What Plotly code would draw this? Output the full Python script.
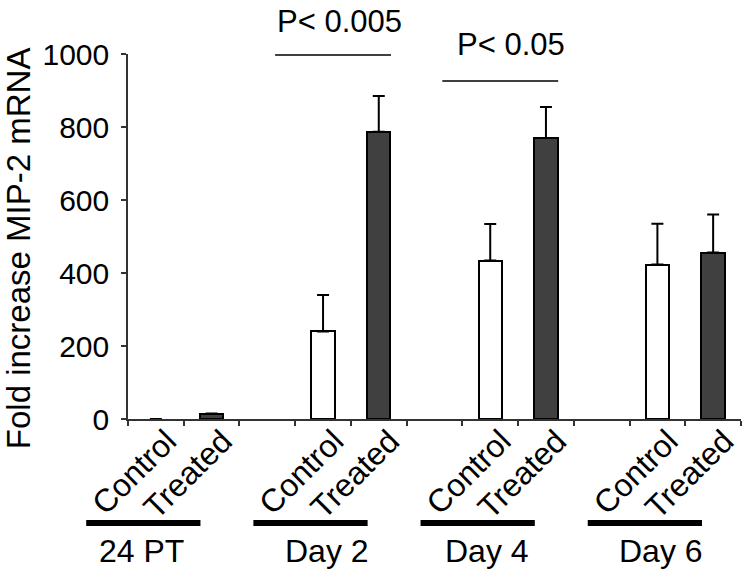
import plotly.graph_objects as go

groups = ["24 PT", "Day 2", "Day 4", "Day 6"]
conditions = ["Control", "Treated"]
control_mean = [0, 240, 434, 423]
control_err = [0, 100, 100, 112]
treated_mean = [15, 787, 770, 456]
treated_err = [0, 98, 85, 104]
p_labels = ["P< 0.005", "P< 0.05"]
p_groups = [1, 2]
y_ticks = [0, 200, 400, 600, 800, 1000]

FONT = "Arial, Liberation Sans, sans-serif"
step = 3  # slots per group (control, treated, gap)
ctrl_x = [step * i for i in range(len(groups))]
trt_x = [step * i + 1 for i in range(len(groups))]
n_slots = step * len(groups) - 1  # 11 slots: 0..10
x_lo, x_hi = -0.5, n_slots - 0.5

def to_paper(v):
    return (v - x_lo) / (x_hi - x_lo)

fig = go.Figure()
fig.add_trace(go.Bar(
    x=ctrl_x, y=control_mean, width=0.42,
    marker=dict(color="white", line=dict(color="black", width=[0, 2, 2, 2])),
    error_y=dict(type="data", array=control_err, arrayminus=[0]*4, symmetric=False,
                 color="black", thickness=2, width=6, visible=True),
    showlegend=False))
fig.add_trace(go.Bar(
    x=trt_x, y=treated_mean, width=0.42,
    marker=dict(color="#404040", line=dict(color="black", width=2)),
    error_y=dict(type="data", array=treated_err, arrayminus=[0]*4, symmetric=False,
                 color="black", thickness=2, width=6, visible=True),
    showlegend=False))
# invisible trace to carry the label axis
fig.add_trace(go.Scatter(x=ctrl_x + trt_x, y=[0]*8, xaxis="x2", mode="markers",
                         marker=dict(opacity=0), hoverinfo="skip", showlegend=False))

label_shift = 0.2
tickvals = []
ticktext = []
for c, t in zip(ctrl_x, trt_x):
    tickvals += [c + label_shift, t + label_shift]
    ticktext += conditions

shapes = []
annotations = []
group_label_dx = [-0.25, 0.07, -0.06, 0.06]
for i, g in enumerate(groups):
    c = ctrl_x[i]
    x0 = to_paper(c - 1.25)
    x1 = to_paper(c + 0.8)
    shapes.append(dict(type="line", xref="paper", yref="paper", x0=x0, x1=x1,
                       y0=-0.285, y1=-0.285, line=dict(color="black", width=6)))
    annotations.append(dict(x=to_paper(c + group_label_dx[i]), y=-0.362,
                            xref="paper", yref="paper",
                            text=g, showarrow=False, xanchor="center", yanchor="middle",
                            font=dict(size=32, color="black", family=FONT)))

p_line_y = [997, 926]
p_text_y = [1.088, 1.025]
p_text_dx = [0.3, 0.38]
for k, gi in enumerate(p_groups):
    c = ctrl_x[gi]
    shapes.append(dict(type="line", xref="x", yref="y", x0=c - 0.86, x1=c + 1.22,
                       y0=p_line_y[k], y1=p_line_y[k], line=dict(color="black", width=1.5)))
    annotations.append(dict(x=to_paper(c + p_text_dx[k]), y=p_text_y[k],
                            xref="paper", yref="paper",
                            text=p_labels[k], showarrow=False, xanchor="center",
                            yanchor="middle", font=dict(size=31, color="black", family=FONT)))

annotations.append(dict(x=-0.1794, y=0.468, xref="paper", yref="paper",
                        text="Fold increase MIP-2 mRNA", textangle=-90, showarrow=False,
                        xanchor="center", yanchor="middle",
                        font=dict(size=33, color="black", family=FONT)))

fig.update_layout(
    width=750, height=579,
    margin=dict(l=128, r=9, t=54, b=160, autoexpand=False),
    plot_bgcolor="white", paper_bgcolor="white",
    bargap=0,
    font=dict(family=FONT, color="black", size=30),
    xaxis=dict(range=[x_lo, x_hi], tickmode="array",
               tickvals=[x + 0.5 for x in range(-1, n_slots)],
               ticktext=[""] * (n_slots + 1), ticks="outside", ticklen=5,
               tickwidth=1.5, tickcolor="#333", showline=True, linecolor="#333",
               linewidth=1.5, showgrid=False, zeroline=False, automargin=False),
    xaxis2=dict(overlaying="x", anchor="y", side="bottom",
                range=[x_lo, x_hi], tickmode="array",
                tickvals=tickvals, ticktext=ticktext, tickangle=-45,
                ticks="", showline=False, showgrid=False, zeroline=False,
                automargin=False, ticklabelstandoff=-4,
                tickfont=dict(size=32, color="black", family=FONT)),
    yaxis=dict(range=[0, 1000], tickmode="array", tickvals=y_ticks,
               ticks="outside", ticklen=5, tickwidth=1.5, tickcolor="#333",
               showline=True, linecolor="#333", linewidth=1.5,
               showgrid=False, zeroline=False, ticklabelstandoff=6,
               automargin=False,
               tickfont=dict(size=30, color="black", family=FONT)),
    shapes=shapes,
    annotations=annotations,
)

fig.write_html("out.html", config={"displayModeBar": False},
               post_script="document.body.style.margin='0';document.body.style.padding='0';")
